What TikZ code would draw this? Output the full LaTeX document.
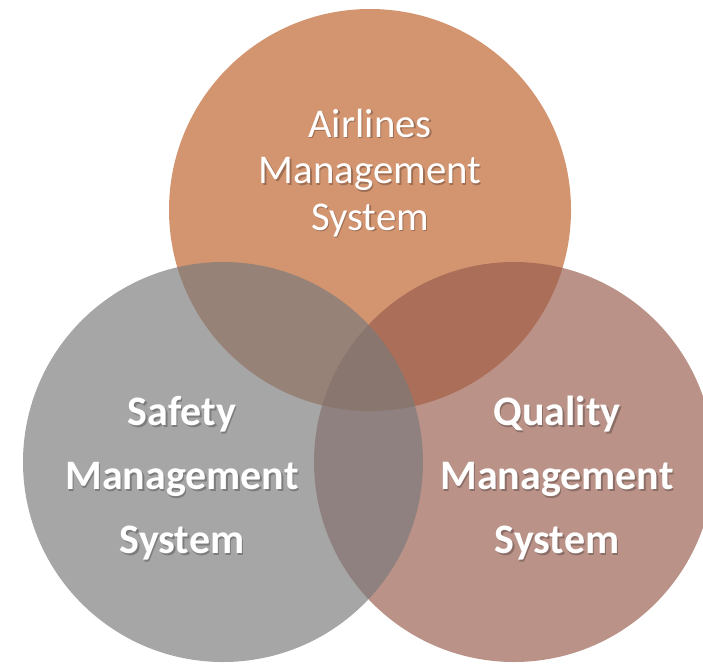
\documentclass[tikz,border=0pt]{standalone}
\usepackage{fontspec}
\setmainfont{Carlito}
\usepackage{xcolor}
\definecolor{airorange}{RGB}{190,97,42}
\definecolor{safegray}{RGB}{122,122,122}
\definecolor{qualrose}{RGB}{152,93,78}

\begin{document}
\begin{tikzpicture}[x=1pt, y=-1pt,
            disc/.style={circle, inner sep=0pt, fill opacity=0.67, draw=none},
            title/.style={text=white, align=center},
            titleshade/.style={text=black, text opacity=0.25, align=center},
            thin/.style={font=\fontsize{40.8}{46.5}\selectfont},
            heavy/.style={font=\bfseries\fontsize{42}{64}\selectfont}
        ]
            \useasboundingbox (0,0) rectangle (703,664);

% Venn discs
            \node[disc, fill=airorange, minimum size=402pt] (airlines) at (370,210) {};
            \node[disc, fill=qualrose, minimum size=400pt] (quality) at (514,462) {};
            \node[disc, fill=safegray, minimum size=400pt] (safety) at (223,462) {};

% Shadows of the labels
            \node[titleshade, thin] at (371.5,174.5) {Airlines\\Management\\System};
            \node[titleshade, heavy] at (183.5,480) {Safety\\Management\\System};
            \node[titleshade, heavy] at (558.5,480) {Quality\\Management\\System};

% Labels
            \node[title, thin] (airlines_txt) at (370,173) {Airlines\\Management\\System};
            \node[title, heavy] (safety_txt) at (182,478.5) {Safety\\Management\\System};
            \node[title, heavy] (quality_txt) at (557,478.5) {Quality\\Management\\System};

        \end{tikzpicture}
\end{document}
